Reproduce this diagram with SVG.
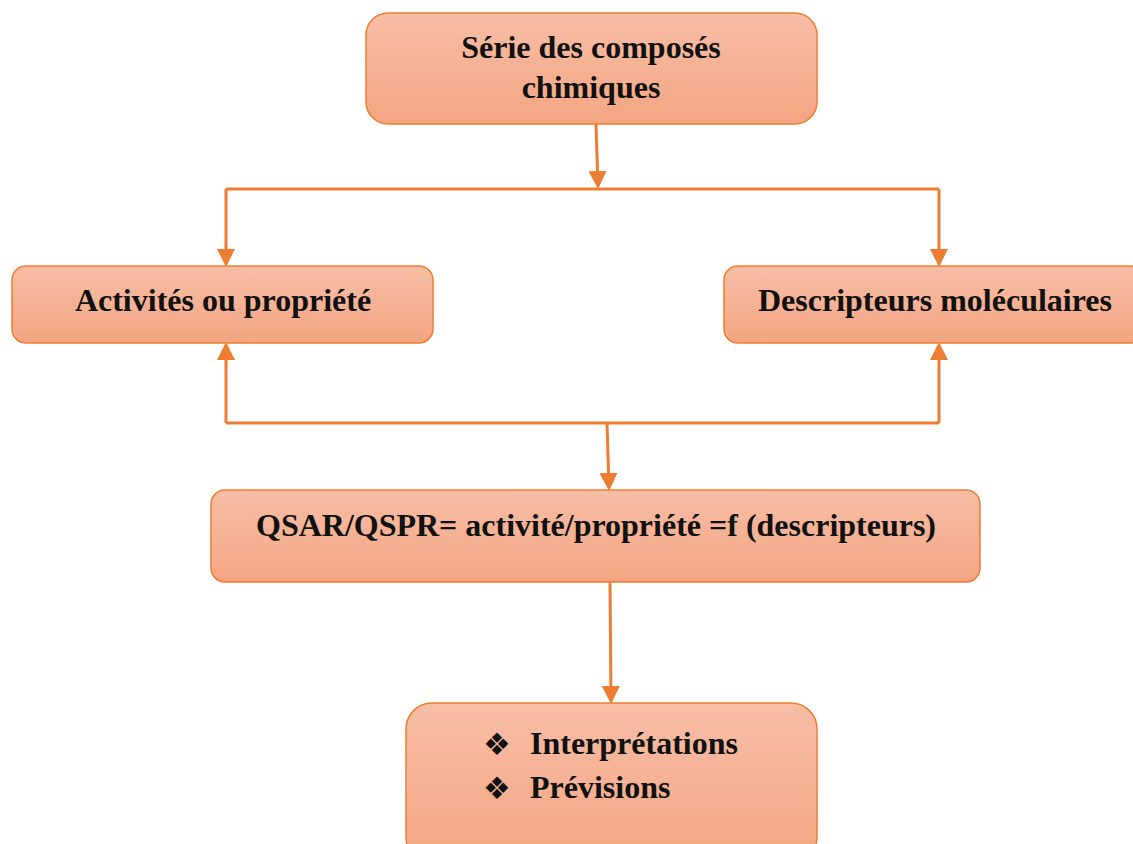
<svg xmlns="http://www.w3.org/2000/svg" width="1133" height="844" viewBox="0 0 1133 844">
<defs>
<linearGradient id="g" x1="0" y1="0" x2="0" y2="1">
<stop offset="0" stop-color="#F7BEA6"/>
<stop offset="1" stop-color="#F4A582"/>
</linearGradient>
<marker id="ah" markerWidth="6" markerHeight="6" refX="5" refY="3" orient="auto" markerUnits="strokeWidth">
<path d="M0,0 L6,3 L0,6 Z" fill="#ED7D31"/>
</marker>
<style>
.box{fill:url(#g);stroke:#ED7D31;stroke-width:1.5}
.t{font-family:"Liberation Serif","Times New Roman",serif;font-weight:bold;font-size:32px;fill:#111;text-anchor:middle}
.b{font-family:"DejaVu Sans",sans-serif;font-size:31px;fill:#111}
.c{fill:none;stroke:#ED7D31;stroke-width:3}
</style>
</defs>
<rect width="1133" height="844" fill="#fff"/>
<g id="connectors">
<line class="c" x1="596" y1="124" x2="598" y2="186" marker-end="url(#ah)"/>
<polyline class="c" points="226,189 939,189"/>
<line class="c" x1="226" y1="189" x2="226" y2="264" marker-end="url(#ah)"/>
<line class="c" x1="939" y1="189" x2="939" y2="264" marker-end="url(#ah)"/>
<polyline class="c" points="226,423 939,423"/>
<line class="c" x1="226" y1="423" x2="226" y2="345" marker-end="url(#ah)"/>
<line class="c" x1="939" y1="423" x2="939" y2="345" marker-end="url(#ah)"/>
<line class="c" x1="607" y1="423" x2="609" y2="488" marker-end="url(#ah)"/>
<line class="c" x1="610" y1="582" x2="611" y2="701" marker-end="url(#ah)"/>
</g>
<g id="n1">
<rect class="box" x="366" y="13" width="451" height="111" rx="22"/>
<text class="t" x="591" y="58">Série des composés</text>
<text class="t" x="591" y="98">chimiques</text>
</g>
<g id="n2">
<rect class="box" x="12" y="266" width="421" height="77" rx="14"/>
<text class="t" x="223" y="311">Activités ou propriété</text>
</g>
<g id="n3">
<rect class="box" x="724" y="266" width="420" height="77" rx="14"/>
<text class="t" x="935" y="311">Descripteurs moléculaires</text>
</g>
<g id="n4">
<rect class="box" x="211" y="490" width="769" height="92" rx="14"/>
<text class="t" x="596" y="536" textLength="680" lengthAdjust="spacingAndGlyphs">QSAR/QSPR= activité/propriété =f (descripteurs)</text>
</g>
<g id="n5">
<rect class="box" x="406" y="703" width="411" height="160" rx="26"/>
<text class="b" x="483" y="755">❖</text>
<text class="t" x="530" y="754" style="text-anchor:start">Interprétations</text>
<text class="b" x="483" y="799">❖</text>
<text class="t" x="530" y="798" style="text-anchor:start">Prévisions</text>
</g>
</svg>
